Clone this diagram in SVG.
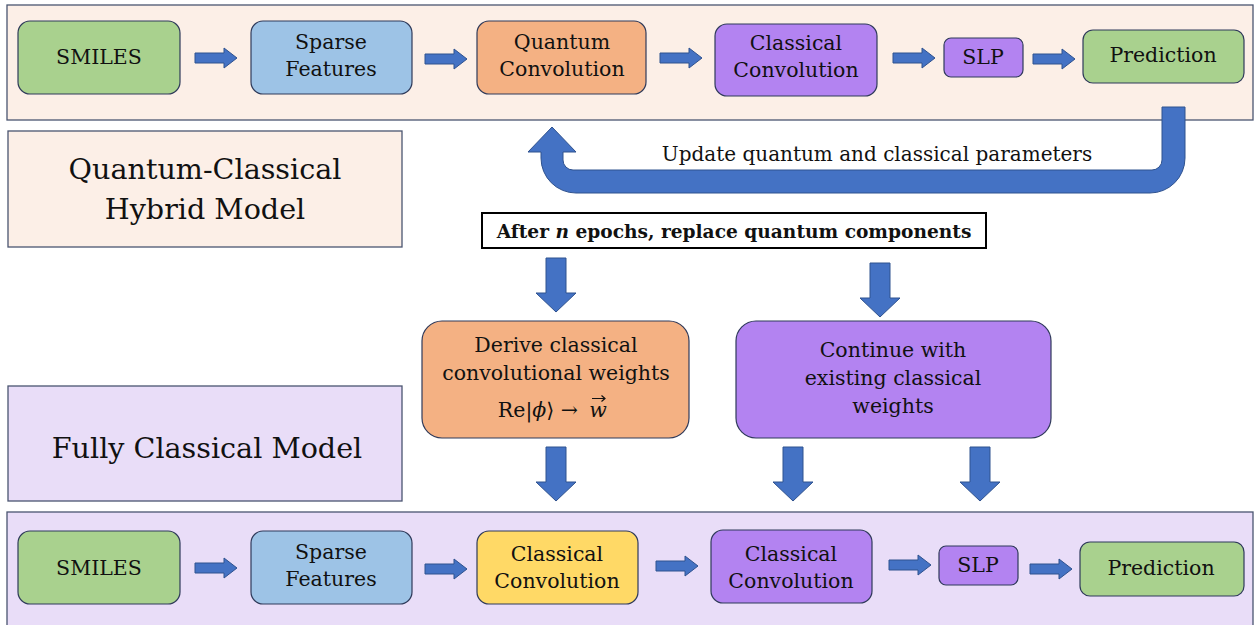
<svg xmlns="http://www.w3.org/2000/svg" width="1256" height="625" viewBox="0 0 1256 625">
<style>
.panelA{fill:#fcefe7;stroke:#4a5570;stroke-width:1.3}
.panelB{fill:#e9ddf8;stroke:#4a5570;stroke-width:1.3}
.node{stroke:#2f3a5a;stroke-width:1.2}
.green{fill:#a9d18e}.blue{fill:#9dc3e6}.orange{fill:#f4b183}.purple{fill:#b383f1}.yellow{fill:#ffd966}
.arr{fill:#4472c4;stroke:#2f528f;stroke-width:1}
text{font-family:"DejaVu Serif","Liberation Serif",serif;fill:#111;text-anchor:middle}
.t{font-size:20.5px}
.big{font-size:28.6px}
.bold{font-weight:bold;font-size:18.6px}
</style>
<defs>
<path id="ra" class="arr" d="M0 -5 H29 V-10 L42 0 L29 10 V5 H0 Z"/>
<path id="da" class="arr" d="M-10 0 H10 V35 H20 L0 54 L-20 35 H-10 Z"/>
</defs>
<rect class="panelA" x="7" y="5" width="1246" height="115"/>
<rect class="panelB" x="7" y="512" width="1246" height="120"/>
<g id="label-hybrid"><rect class="panelA" x="8" y="131" width="394" height="116"/><text class="big" x="205" y="179">Quantum-Classical</text><text class="big" x="205" y="219">Hybrid Model</text></g>
<g id="label-classical"><rect class="panelB" x="8" y="386" width="394" height="115"/><text class="big" x="207" y="458">Fully Classical Model</text></g>
<g id="t-smiles"><rect class="node green" x="18" y="21" width="162" height="73" rx="12"/><text class="t" x="99" y="64">SMILES</text></g>
<g id="t-sparse"><rect class="node blue" x="251" y="21" width="161" height="73" rx="12"/><text class="t" x="331" y="49">Sparse</text><text class="t" x="331" y="76">Features</text></g>
<g id="t-qconv"><rect class="node orange" x="477" y="21" width="169" height="73" rx="12"/><text class="t" x="562" y="49">Quantum</text><text class="t" x="562" y="76">Convolution</text></g>
<g id="t-cconv"><rect class="node purple" x="715" y="24" width="162" height="72" rx="12"/><text class="t" x="796" y="50">Classical</text><text class="t" x="796" y="77">Convolution</text></g>
<g id="t-slp"><rect class="node purple" x="944" y="38" width="79" height="39" rx="7"/><text class="t" x="983" y="64">SLP</text></g>
<g id="t-pred"><rect class="node green" x="1083" y="30" width="161" height="53" rx="10"/><text class="t" x="1163" y="62">Prediction</text></g>
<g id="b-smiles"><rect class="node green" x="18" y="531" width="162" height="73" rx="12"/><text class="t" x="99" y="575">SMILES</text></g>
<g id="b-sparse"><rect class="node blue" x="251" y="531" width="161" height="73" rx="12"/><text class="t" x="331" y="559">Sparse</text><text class="t" x="331" y="586">Features</text></g>
<g id="b-cconv1"><rect class="node yellow" x="477" y="531" width="161" height="73" rx="12"/><text class="t" x="557" y="561">Classical</text><text class="t" x="557" y="588">Convolution</text></g>
<g id="b-cconv2"><rect class="node purple" x="711" y="530" width="161" height="73" rx="12"/><text class="t" x="791" y="561">Classical</text><text class="t" x="791" y="588">Convolution</text></g>
<g id="b-slp"><rect class="node purple" x="939" y="546" width="79" height="39" rx="7"/><text class="t" x="978" y="572">SLP</text></g>
<g id="b-pred"><rect class="node green" x="1080" y="542" width="164" height="54" rx="10"/><text class="t" x="1161" y="575">Prediction</text></g>
<g id="after"><rect x="482" y="213" width="504" height="35" fill="#fff" stroke="#000" stroke-width="2"/><text class="bold" x="734" y="238">After <tspan font-style="italic">n</tspan> epochs, replace quantum components</text></g>
<g id="derive"><rect class="node orange" x="422" y="321" width="267" height="117" rx="20"/><text class="t" x="556" y="352">Derive classical</text><text class="t" x="556" y="380">convolutional weights</text><text class="t" x="578" y="417" style="text-anchor:end">Re|<tspan font-style="italic">ϕ</tspan>⟩ →</text><text class="t" x="598" y="417" font-style="italic">w</text><path d="M592 398.5 H605 M601.5 395.5 L605 398.5 L601.5 401.5" fill="none" stroke="#111" stroke-width="1.2"/></g>
<g id="continue"><rect class="node purple" x="736" y="321" width="315" height="117" rx="20"/><text class="t" x="893" y="357">Continue with</text><text class="t" x="893" y="385">existing classical</text><text class="t" x="893" y="413">weights</text></g>
<g id="connectors">
<use href="#ra" x="195" y="58"/><use href="#ra" x="425" y="59"/><use href="#ra" x="660" y="58"/><use href="#ra" x="893" y="58"/><use href="#ra" x="1033" y="59"/>
<use href="#ra" x="195" y="568"/><use href="#ra" x="425" y="569"/><use href="#ra" x="656" y="566"/><use href="#ra" x="889" y="565"/><use href="#ra" x="1030" y="569"/>
<use href="#da" x="556" y="258"/><use href="#da" x="880" y="263"/><use href="#da" x="556" y="447"/><use href="#da" x="793" y="447"/><use href="#da" x="980" y="447"/>
<path class="arr" d="M1162 107 H1185 V158 A35 35 0 0 1 1150 193 H576 A35 35 0 0 1 541 158 V152 H528 L552 127 L576 152 H563 V160 A10 10 0 0 0 573 170 H1152 A10 10 0 0 0 1162 160 Z"/>
<text style="font-size:20px" x="877" y="161">Update quantum and classical parameters</text>
</g>
</svg>
